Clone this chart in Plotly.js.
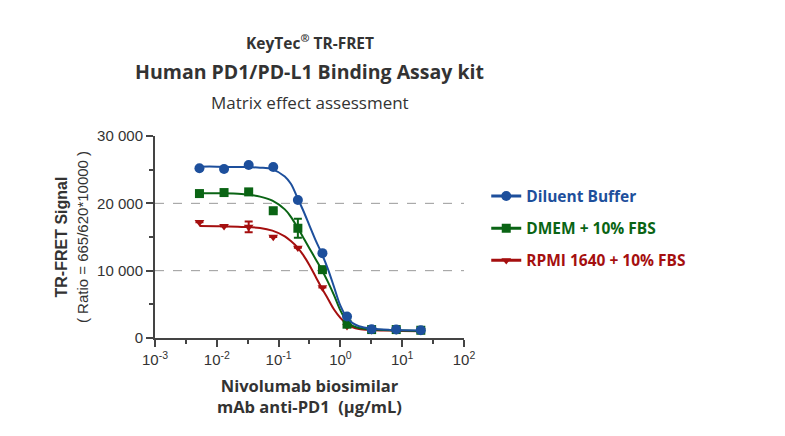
<!DOCTYPE html>
<html>
<head>
<meta charset="utf-8">
<script src="https://cdn.plot.ly/plotly-3.0.1.min.js"></script>
<style>
  html, body { margin: 0; padding: 0; background: #fff; }
  #chart { width: 785px; height: 436px; }
</style>
</head>
<body>
<div id="chart"></div>
<script>
// Data
const seriesNames = ["Diluent Buffer", "DMEM + 10% FBS", "RPMI 1640 + 10% FBS"];

// Nivolumab concentrations (µg/mL), 2.5-fold dilutions
const conc = [0.00524, 0.0131, 0.0328, 0.0819, 0.205, 0.512, 1.28, 3.2, 8, 20];

const diluent = [25200, 25100, 25700, 25400, 20500, 12600, 3200, 1300, 1250, 1150];
const dmem    = [21450, 21600, 21700, 18900, 16300, 10150, 2050, 1250, 1250, 1150];
const rpmi    = [17200, 16600, 16500, 15000, 13400, 7500, 1750, 1150, 1150, 1100];

const dmemErr = [300, 0, 0, 0, 1400, 0, 0, 0, 0, 0];
const rpmiErr = [0, 0, 800, 0, 0, 0, 0, 0, 0, 0];

// Fitted curves
const fitConc = [0.00525, 0.01, 0.0251, 0.0501, 0.0794, 0.126, 0.158, 0.2, 0.251, 0.316,
                 0.398, 0.501, 0.631, 0.794, 1, 1.26, 1.58, 2, 3.16, 6.31, 10, 20];
const diluentFit = [25450, 25450, 25400, 25300, 25050, 24000, 22900, 20900, 18900, 16700,
                    14500, 12500, 10200, 7500, 4800, 3100, 2200, 1750, 1400, 1200, 1150, 1100];
const dmemFit    = [21500, 21500, 21400, 21000, 20400, 19100, 18000, 16500, 14900, 13300,
                    11700, 10100, 8300, 6300, 4100, 2500, 1800, 1500, 1300, 1150, 1100, 1050];
const rpmiFit    = [16650, 16600, 16500, 16350, 15950, 15100, 14400, 13500, 12300, 10800,
                    9100, 7400, 5800, 4200, 3000, 2100, 1600, 1350, 1200, 1100, 1050, 1000];

const xTickVals = [0.001, 0.01, 0.1, 1, 10, 100];
const xTickText = ["10<sup>-3</sup>", "10<sup>-2</sup>", "10<sup>-1</sup>", "10<sup>0</sup>", "10<sup>1</sup>", "10<sup>2</sup>"];
const xMinorVals = [0.00316, 0.0316, 0.316, 3.16, 31.6];
const yTickVals = [0, 10000, 20000, 30000];
const yTickText = ["0", "10 000", "20 000", "30 000"];
const yMinorVals = [5000, 15000, 25000];
const gridVals = [10000, 20000];

const colors = ["#1d4f9c", "#0a6414", "#a50f0f"];
const symbols = ["circle", "square", "triangle-down"];
const sizes = [10, 9, 8.5];

const TITLE_FONT = "'Open Sans', 'Noto Sans', sans-serif";
const AXIS_FONT = "'Liberation Sans', Arial, sans-serif";

const values = [diluent, dmem, rpmi];
const errs = [null, dmemErr, rpmiErr];
const fits = [diluentFit, dmemFit, rpmiFit];

const traces = [];
// draw red first so blue ends up on top
for (let s = 2; s >= 0; s--) {
  traces.push({
    type: "scatter", mode: "lines",
    x: fitConc, y: fits[s],
    line: { color: colors[s], width: 2, shape: "spline", smoothing: 1 },
    hoverinfo: "skip", showlegend: false
  });
  const t = {
    type: "scatter", mode: "markers",
    x: conc, y: values[s],
    marker: { color: colors[s], symbol: symbols[s], size: sizes[s] },
    name: seriesNames[s], showlegend: false
  };
  if (errs[s]) {
    t.error_y = { type: "data", array: errs[s], visible: true, color: colors[s], thickness: 2, width: 4 };
  }
  traces.push(t);
}
// legend entries (line + marker)
for (let s = 0; s < 3; s++) {
  traces.push({
    type: "scatter", mode: "lines+markers",
    x: [null], y: [null],
    name: "<b><span style='color:" + colors[s] + "'>" + seriesNames[s] + "</span></b>",
    legendgroup: "g" + s,
    line: { color: colors[s], width: 3 },
    marker: { color: colors[s], symbol: symbols[s], size: sizes[s] },
    showlegend: true
  });
}

const shapes = gridVals.map(v => ({
  type: "line", xref: "paper", x0: 0, x1: 1, yref: "y", y0: v, y1: v,
  line: { color: "#999", width: 1, dash: "dash" }, layer: "below"
}));

const layout = {
  width: 785, height: 436,
  margin: { l: 155, r: 321, t: 136, b: 98 },
  paper_bgcolor: "#fff", plot_bgcolor: "#fff",
  font: { family: AXIS_FONT, color: "#333" },
  showlegend: true,
  legend: {
    x: 1.072, y: 0.785, xanchor: "left", yanchor: "top",
    font: { family: TITLE_FONT, size: 15.5, color: "#333" },
    tracegroupgap: 9, itemwidth: 30,
    bgcolor: "rgba(0,0,0,0)"
  },
  xaxis: {
    type: "log", range: [-3, 2],
    tickvals: xTickVals, ticktext: xTickText,
    ticks: "outside", ticklen: 7, tickwidth: 2, tickcolor: "#444",
    minor: { tickvals: xMinorVals, ticks: "outside", ticklen: 4, tickwidth: 2, tickcolor: "#444" },
    showline: true, linecolor: "#444", linewidth: 2,
    showgrid: false, zeroline: false,
    tickfont: { family: AXIS_FONT, size: 15, color: "#333" },
    title: {
      text: "<b>Nivolumab biosimilar<br>mAb anti-PD1  (μg/mL)</b>",
      font: { family: TITLE_FONT, size: 16.5, color: "#333" },
      standoff: 13
    }
  },
  yaxis: {
    range: [0, 30000],
    tickvals: yTickVals, ticktext: yTickText,
    ticks: "outside", ticklen: 7, tickwidth: 2, tickcolor: "#444",
    minor: { tickvals: yMinorVals, ticks: "outside", ticklen: 4, tickwidth: 2, tickcolor: "#444" },
    showline: true, linecolor: "#444", linewidth: 2,
    showgrid: false, zeroline: false,
    tickfont: { family: AXIS_FONT, size: 15, color: "#333" },
    title: {
      text: "<b>TR-FRET Signal</b><br><span style='font-size:15px'>( Ratio = 665/620*10000 )</span>",
      font: { family: AXIS_FONT, size: 16, color: "#333" },
      standoff: 5
    }
  },
  shapes: shapes,
  annotations: [
    { xref: "paper", yref: "paper", x: 0.5, y: 1.465, yanchor: "middle", showarrow: false,
      text: "<b>KeyTec<sup>®</sup> TR-FRET</b>",
      font: { family: TITLE_FONT, size: 15.5, color: "#333" } },
    { xref: "paper", yref: "paper", x: 0.5, y: 1.317, yanchor: "middle", showarrow: false,
      text: "<b>Human PD1/PD-L1 Binding Assay kit</b>",
      font: { family: TITLE_FONT, size: 19.5, color: "#333" } },
    { xref: "paper", yref: "paper", x: 0.5, y: 1.168, yanchor: "middle", showarrow: false,
      text: "Matrix effect assessment",
      font: { family: TITLE_FONT, size: 17, color: "#333" } }
  ]
};

Plotly.newPlot("chart", traces, layout, { displayModeBar: false, staticPlot: true });
</script>
</body>
</html>
